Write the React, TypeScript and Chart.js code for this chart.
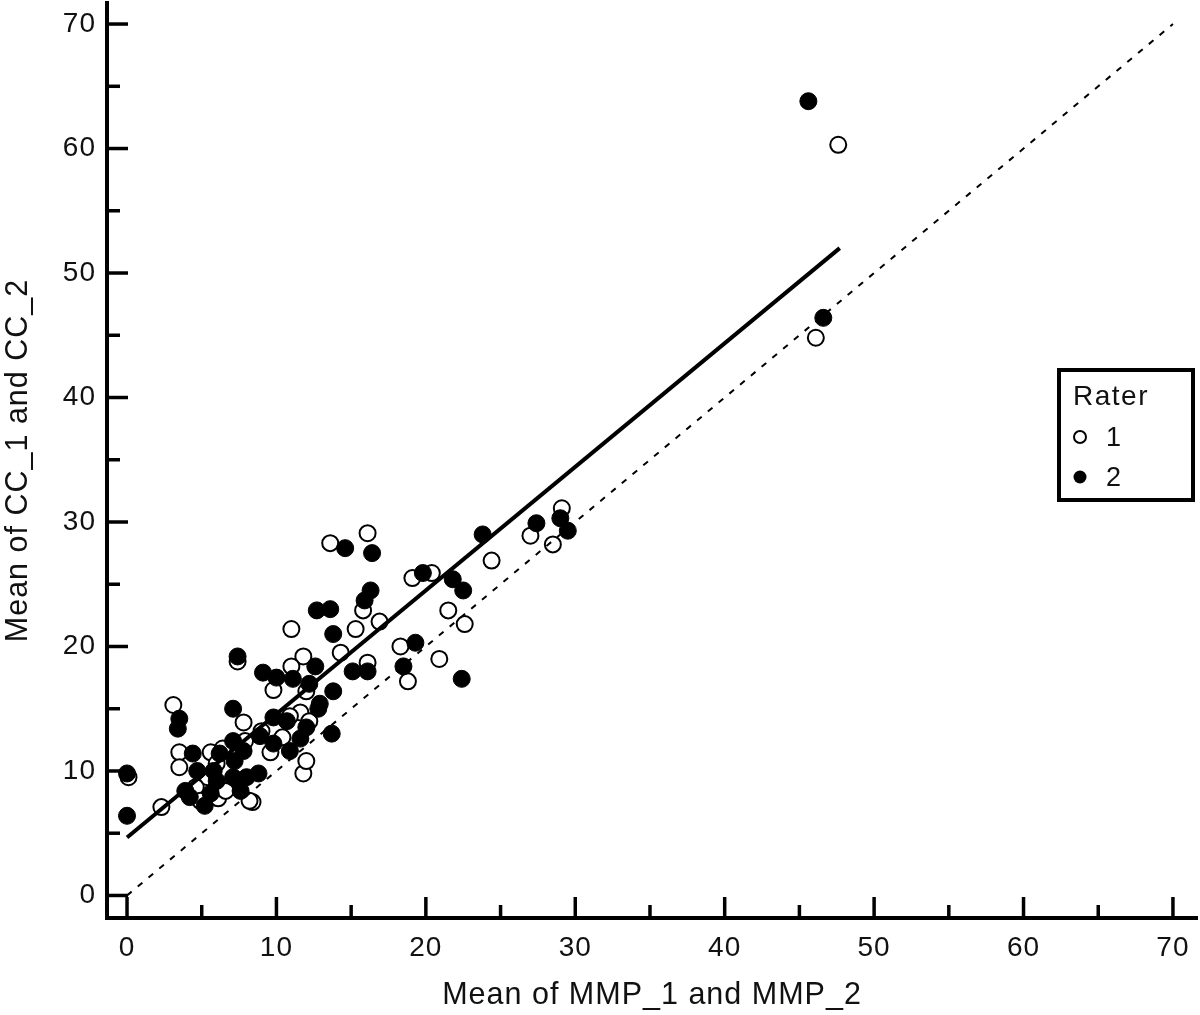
import React, { useEffect, useRef } from "react";
import { Chart, registerables } from "chart.js";

Chart.register(...registerables);

// Rater 1 (open circles)
const rater1X = [
  47.6, 46.1, 2.3, 0.1, 13.6, 16.1, 27.0, 28.5, 29.1, 24.4, 19.1, 20.4, 21.5,
  22.6, 20.9, 18.8, 18.3, 16.9, 15.3, 15.8, 14.3, 16.1, 11.0, 11.8, 11.0, 9.8,
  12.0, 11.8, 12.0, 8.4, 7.8, 3.1, 3.5, 3.5, 5.6, 6.4, 5.4, 4.6, 8.2, 6.1, 7.4,
  11.6, 12.2, 10.4, 6.0, 9.0, 9.6, 10.9, 4.9, 6.6, 7.9,
];
const rater1Y = [
  60.3, 44.8, 7.1, 9.5, 28.3, 29.1, 28.9, 28.2, 31.1, 26.9, 25.5, 25.9, 22.9,
  21.8, 19.0, 17.2, 20.0, 22.0, 21.4, 22.9, 19.5, 18.7, 21.4, 19.2, 18.4, 16.5,
  16.4, 9.8, 10.8, 7.5, 13.9, 15.3, 11.5, 10.3, 11.5, 11.8, 9.5, 8.7, 7.6, 7.8,
  18.8, 14.7, 14.0, 12.7, 10.6, 13.2, 11.5, 14.4, 7.6, 8.4, 12.4,
];

// Rater 2 (filled circles)
const rater2X = [
  45.6, 46.6, 0.0, 0.0, 29.5, 29.0, 27.4, 23.8, 14.6, 16.4, 16.3, 15.9, 19.8,
  21.8, 22.5, 12.7, 13.6, 13.8, 15.1, 16.1, 19.3, 18.5, 22.4, 7.4, 9.1, 12.6,
  10.0, 11.1, 12.2, 13.8, 7.1, 3.5, 3.4, 9.8, 10.7, 12.8, 12.0, 13.7, 9.8, 10.9,
  7.1, 7.8, 6.2, 4.4, 4.7, 3.9, 5.6, 6.0, 7.6, 8.0, 7.1, 8.8, 12.9, 5.8, 5.2,
  4.2, 7.2, 11.6, 8.9,
];
const rater2Y = [
  63.8, 46.4, 9.8, 6.4, 29.3, 30.3, 29.9, 29.0, 27.9, 27.5, 24.5, 23.7, 25.9,
  25.4, 24.5, 22.9, 23.0, 21.0, 18.0, 18.0, 20.3, 18.4, 17.4, 19.2, 17.9, 18.4,
  17.5, 17.4, 17.0, 16.4, 15.0, 14.2, 13.4, 14.3, 14.0, 15.0, 13.5, 13.0, 12.2,
  11.6, 12.4, 11.6, 11.4, 11.4, 10.0, 8.4, 8.2, 9.2, 8.4, 9.5, 9.5, 9.8, 15.4,
  10.0, 7.2, 7.9, 10.8, 12.6, 12.8,
];

// Regression line and line of identity
const fitX = [0, 47.7];
const fitY = [4.65, 52.0];
const identityX = [0, 70];
const identityY = [0, 70];

const majorTicks = [0, 10, 20, 30, 40, 50, 60, 70];
const minorTicks = [5, 15, 25, 35, 45, 55, 65];

const xTitle = "Mean of MMP_1 and MMP_2";
const yTitle = "Mean of CC_1 and CC_2";
const legendTitle = "Rater";
const legendLabels = ["1", "2"];

const FONT = "'Liberation Sans', Arial, sans-serif";

const toPoints = (xs: number[], ys: number[]) => xs.map((x, i) => ({ x, y: ys[i] }));

const spacingPlugin = {
  id: "spacing",
  beforeUpdate(chart: any) {
    chart.ctx.letterSpacing = "1px";
  },
  beforeDraw(chart: any) {
    chart.ctx.letterSpacing = "1px";
  },
};

const decorPlugin = {
  id: "decor",
  afterDraw(chart: any) {
    const { ctx, chartArea, scales } = chart;
    const xs = scales.x;
    const ys = scales.y;
    ctx.save();
    ctx.strokeStyle = "#000";
    ctx.lineWidth = 3.5;
    ctx.lineCap = "butt";
    const drawTick = (v: number, len: number) => {
      const px = xs.getPixelForValue(v);
      ctx.beginPath();
      ctx.moveTo(px, chartArea.bottom);
      ctx.lineTo(px, chartArea.bottom - len);
      ctx.stroke();
      const py = ys.getPixelForValue(v);
      ctx.beginPath();
      ctx.moveTo(chartArea.left, py);
      ctx.lineTo(chartArea.left + len, py);
      ctx.stroke();
    };
    majorTicks.forEach((v) => drawTick(v, 21));
    minorTicks.forEach((v) => drawTick(v, 13));

    // Legend box
    ctx.lineWidth = 4;
    ctx.fillStyle = "#fff";
    ctx.fillRect(1059, 370, 134, 130);
    ctx.strokeRect(1059, 370, 134, 130);
    ctx.fillStyle = "#111";
    ctx.font = `28px ${FONT}`;
    ctx.letterSpacing = "1.5px";
    ctx.textBaseline = "alphabetic";
    ctx.textAlign = "left";
    ctx.fillText(legendTitle, 1073, 405);
    // item 1
    ctx.beginPath();
    ctx.arc(1080, 437, 6, 0, Math.PI * 2);
    ctx.fillStyle = "#fff";
    ctx.fill();
    ctx.lineWidth = 2;
    ctx.stroke();
    ctx.fillStyle = "#111";
    ctx.font = `27px ${FONT}`;
    ctx.fillText(legendLabels[0], 1106, 446);
    // item 2
    ctx.beginPath();
    ctx.arc(1080, 477, 6.5, 0, Math.PI * 2);
    ctx.fillStyle = "#000";
    ctx.fill();
    ctx.fillStyle = "#111";
    ctx.fillText(legendLabels[1], 1106, 486);
    ctx.restore();
  },
};

export default function App() {
  const ref = useRef<HTMLCanvasElement | null>(null);

  useEffect(() => {
    document.body.style.margin = "0";
    const canvas = ref.current;
    if (!canvas) return;
    const chart = new Chart(canvas, {
      type: "scatter",
      data: {
        datasets: [
          {
            label: "fit",
            type: "line",
            data: toPoints(fitX, fitY),
            borderColor: "#000",
            borderWidth: 4,
            pointRadius: 0,
            fill: false,
          },
          {
            label: "identity",
            type: "line",
            data: toPoints(identityX, identityY),
            borderColor: "#000",
            borderWidth: 2,
            borderDash: [6, 8],
            pointRadius: 0,
            fill: false,
          },
          {
            label: legendLabels[1],
            data: toPoints(rater2X, rater2Y),
            pointRadius: 8.5,
            pointBackgroundColor: "#000",
            pointBorderColor: "#000",
            pointBorderWidth: 1,
          },
          {
            label: legendLabels[0],
            data: toPoints(rater1X, rater1Y),
            pointRadius: 8,
            pointBackgroundColor: "#fff",
            pointBorderColor: "#000",
            pointBorderWidth: 2,
          },
        ],
      } as any,
      options: {
        animation: false,
        responsive: false,
        maintainAspectRatio: false,
        layout: { autoPadding: false, padding: { top: 3, right: 3, left: 0, bottom: 0 } },
        plugins: {
          legend: { display: false },
          tooltip: { enabled: false },
        },
        scales: {
          x: {
            type: "linear",
            min: -1.34,
            max: 71.61,
            afterBuildTicks: (s: any) => {
              s.ticks = majorTicks.map((v) => ({ value: v }));
            },
            afterFit: (s: any) => {
              s.height = 97;
              s.paddingLeft = 0;
              s.paddingRight = 0;
            },
            grid: { display: false, drawTicks: false },
            border: { display: true, width: 4, color: "#000" },
            ticks: {
              color: "#111",
              font: { size: 28, family: FONT },
              padding: 13,
              maxRotation: 0,
              autoSkip: false,
            },
            title: {
              display: true,
              text: xTitle,
              color: "#111",
              font: { size: 30.5, family: FONT },
              padding: { top: 0, bottom: 1 },
            },
          },
          y: {
            type: "linear",
            min: -1.81,
            max: 71.69,
            afterBuildTicks: (s: any) => {
              s.ticks = majorTicks.map((v) => ({ value: v }));
            },
            afterFit: (s: any) => {
              s.width = 107;
              s.paddingTop = 0;
              s.paddingBottom = 0;
            },
            grid: { display: false, drawTicks: false },
            border: { display: true, width: 4, color: "#000" },
            ticks: {
              color: "#111",
              font: { size: 28, family: FONT },
              padding: 11,
              autoSkip: false,
            },
            title: {
              display: true,
              text: yTitle,
              color: "#111",
              font: { size: 30.5, family: FONT },
              padding: { top: 0, bottom: 0 },
            },
          },
        },
      } as any,
      plugins: [spacingPlugin, decorPlugin],
    });
    return () => chart.destroy();
  }, []);

  return <canvas ref={ref} width={1200} height={1015} style={{ display: "block" }} />;
}
